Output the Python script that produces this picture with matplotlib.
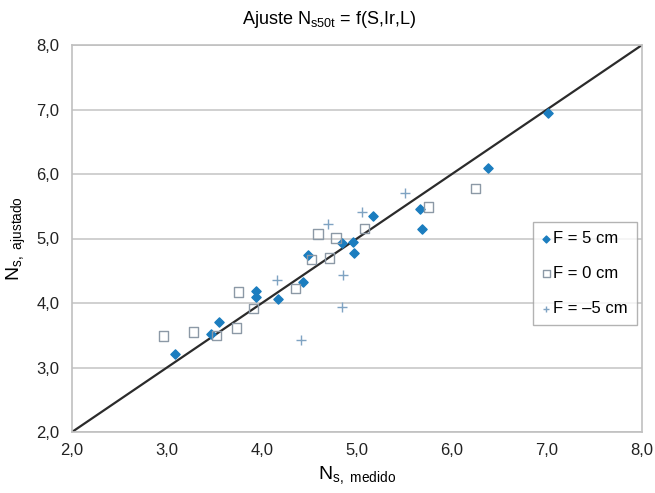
"""Ajuste Ns50t = f(S,Ir,L): valores medidos frente a ajustados."""

import matplotlib

matplotlib.use("Agg")

import matplotlib.pyplot as plt
from matplotlib.ticker import FuncFormatter, MultipleLocator

plt.rcParams["font.family"] = ["Liberation Sans", "DejaVu Sans"]

# F = 5 cm
f5_medido = [3.08, 3.46, 3.55, 3.94, 3.94, 4.17, 4.43, 4.48, 4.84, 4.96, 4.97, 5.17, 5.66, 5.68, 6.38, 7.01]
f5_ajustado = [3.21, 3.52, 3.71, 4.19, 4.09, 4.06, 4.33, 4.74, 4.93, 4.95, 4.78, 5.35, 5.46, 5.15, 6.09, 6.95]

# F = 0 cm
f0_medido = [2.96, 3.28, 3.52, 3.73, 3.75, 3.91, 4.35, 4.52, 4.59, 4.71, 4.78, 5.08, 5.75, 6.25]
f0_ajustado = [3.49, 3.55, 3.50, 3.61, 4.17, 3.91, 4.23, 4.67, 5.07, 4.70, 5.01, 5.15, 5.49, 5.77]

# F = -5 cm
fm5_medido = [4.41, 4.16, 4.69, 4.85, 4.84, 5.05, 5.51]
fm5_ajustado = [3.43, 4.36, 5.22, 4.43, 3.94, 5.41, 5.71]

linea_1a1 = [2.0, 8.0]

fig = plt.figure(figsize=(6.55, 4.93), dpi=100)
ax = fig.add_axes([72 / 655, 1 - 432 / 493, 570 / 655, 387 / 493])

ax.grid(axis="y", color="#c8c8c8", linewidth=1.2)
ax.set_axisbelow(True)

ax.plot(linea_1a1, linea_1a1, color="#2b2b2b", linewidth=1.6, zorder=2)
ax.scatter(f5_medido, f5_ajustado, marker="D", s=22, color="#1b7dbf", label="F = 5 cm", zorder=3)
ax.scatter(f0_medido, f0_ajustado, marker="s", s=45, facecolors="none", edgecolors="#8c99a6",
           linewidths=1.0, label="F = 0 cm", zorder=3)
ax.scatter(fm5_medido, fm5_ajustado, marker="+", s=45, color="#7fa3c2", linewidths=1.0,
           label="F = \u20135 cm", zorder=3)

ax.set_xlim(2, 8)
ax.set_ylim(2, 8)
ax.xaxis.set_major_locator(MultipleLocator(1))
ax.yaxis.set_major_locator(MultipleLocator(1))
coma = FuncFormatter(lambda v, _: f"{v:.1f}".replace(".", ","))
ax.xaxis.set_major_formatter(coma)
ax.yaxis.set_major_formatter(coma)
ax.tick_params(length=0, labelsize=12, colors="#222222")
ax.tick_params(axis="x", pad=8)
ax.tick_params(axis="y", pad=9)

for spine in ax.spines.values():
    spine.set_color("#c0c0c0")
    spine.set_linewidth(1.2)

ax.set_xlabel("N$_{\\mathregular{s,\\ medido}}$", fontsize=14, labelpad=5)
ax.set_ylabel("N$_{\\mathregular{s,\\ ajustado}}$", fontsize=14, labelpad=6)
fig.text(0.503, 1 - 19 / 493, "Ajuste N$_{\\mathregular{s50t}}$ = f(S,Ir,L)", ha="center", va="center", fontsize=13)

leg = ax.legend(loc="upper right", bbox_to_anchor=(0.991, 0.543), borderaxespad=0, fontsize=12,
                frameon=True, fancybox=False, edgecolor="#a0a0a0", labelspacing=1.2,
                handletextpad=0.15, handlelength=0.5, borderpad=0.55, markerscale=0.75)
leg.get_frame().set_linewidth(1.0)

fig.savefig("out.png", dpi=100)
